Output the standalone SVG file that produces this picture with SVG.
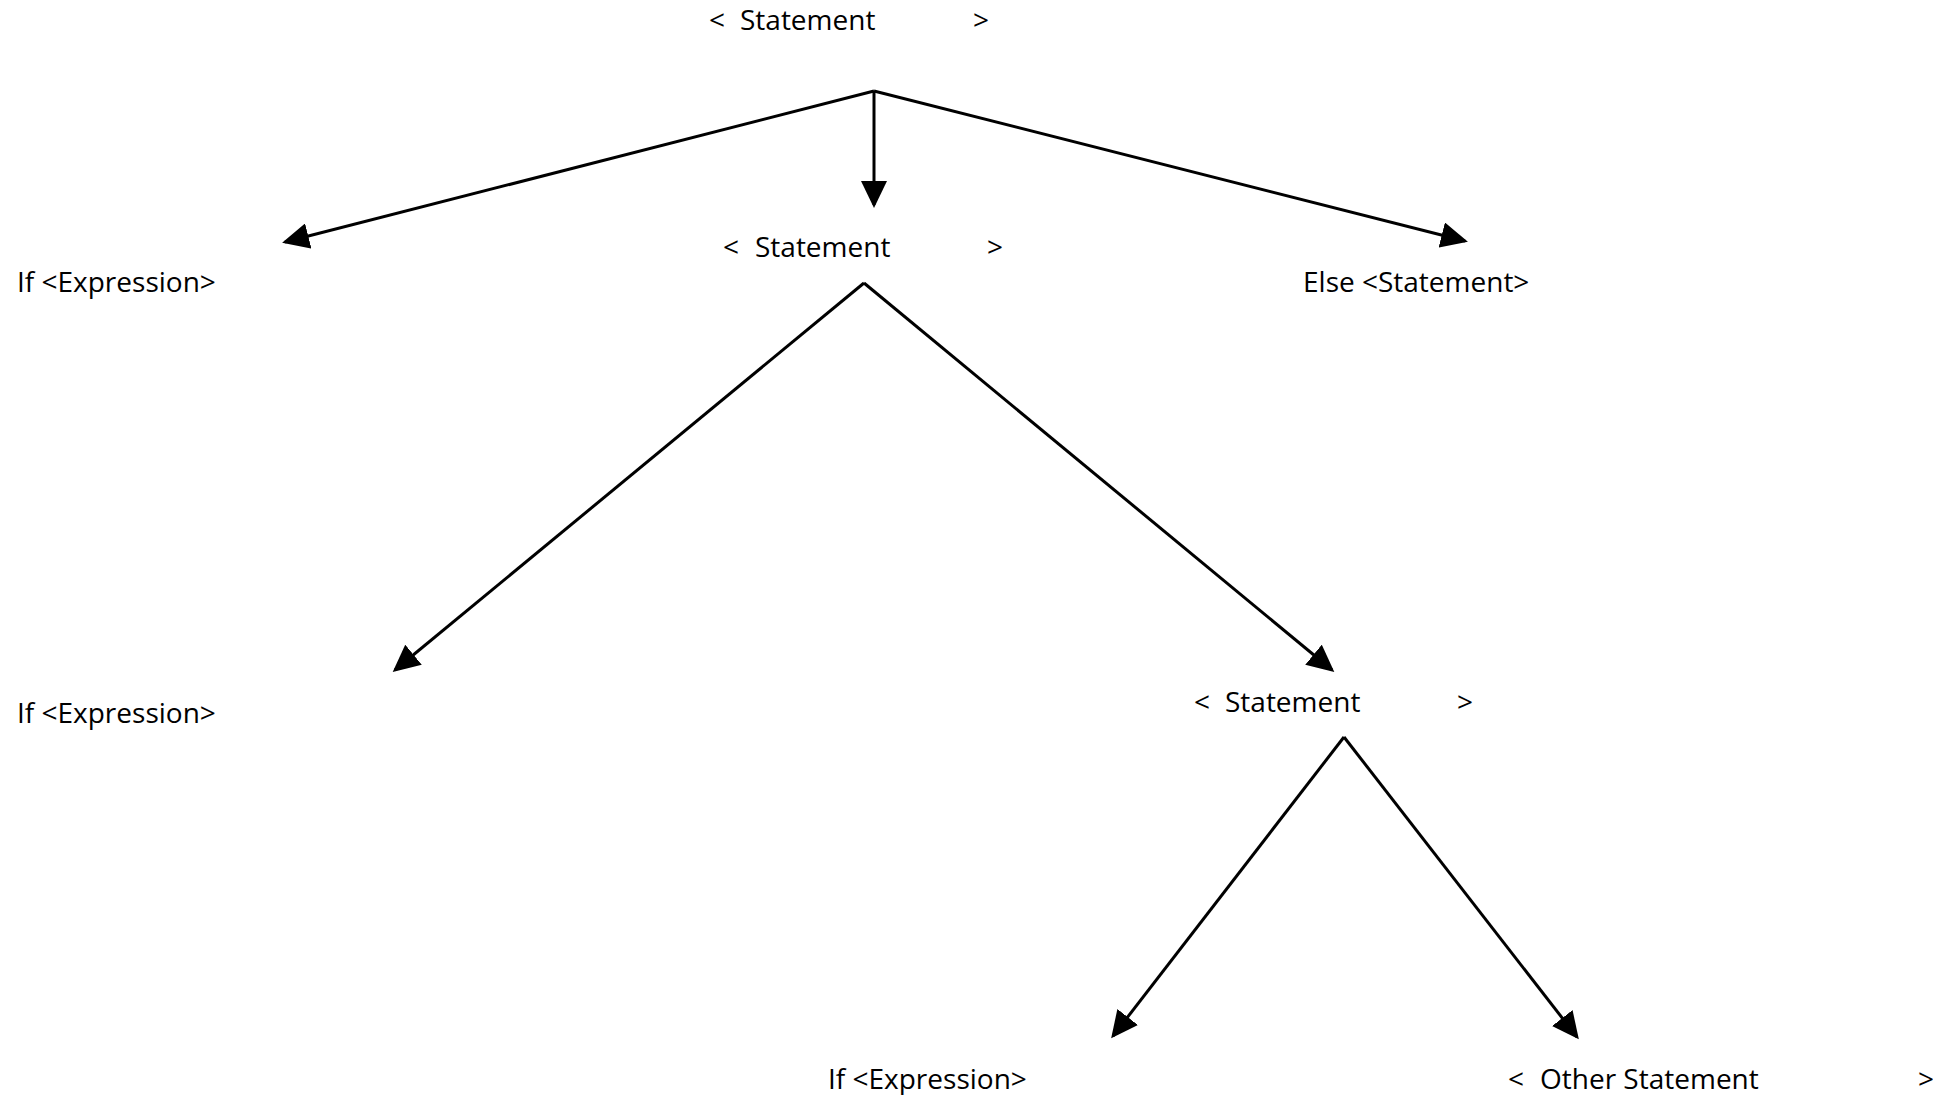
<svg xmlns="http://www.w3.org/2000/svg" width="1933" height="1095" viewBox="0 0 1933 1095">
  <style>
    text { font-family: "Open Sans", "Noto Sans", "DejaVu Sans", sans-serif; font-size: 28px; fill: #000; }
    .edge { stroke: #000; stroke-width: 3; fill: none; marker-end: url(#arrow); }
  </style>
  <defs>
    <marker id="arrow" markerUnits="userSpaceOnUse" markerWidth="27" markerHeight="26" refX="24" refY="13" orient="auto">
      <path d="M0,0 L27,13 L0,26 z" fill="#000"/>
    </marker>
  </defs>
  <rect width="1933" height="1095" fill="#fff"/>

  <!-- parse tree connectors -->
  <g id="connectors">
    <path class="edge" d="M874,91 L285,242"/>
    <path class="edge" d="M874,91 L874,205"/>
    <path class="edge" d="M874,91 L1465,241"/>
    <path class="edge" d="M864,283 L395,670"/>
    <path class="edge" d="M864,283 L1332,670"/>
    <path class="edge" d="M1344,737 L1113,1036"/>
    <path class="edge" d="M1344,737 L1577,1037"/>
  </g>

  <g id="root-statement">
    <text x="709" y="30">&lt;</text>
    <text x="740" y="30">Statement</text>
    <text x="973" y="30">&gt;</text>
  </g>

  <g id="if-expression-1">
    <text x="17" y="292">If &lt;Expression&gt;</text>
  </g>

  <g id="statement-2">
    <text x="723" y="257">&lt;</text>
    <text x="755" y="257">Statement</text>
    <text x="987" y="257">&gt;</text>
  </g>

  <g id="else-statement">
    <text x="1303" y="292">Else &lt;Statement&gt;</text>
  </g>

  <g id="if-expression-2">
    <text x="17" y="723">If &lt;Expression&gt;</text>
  </g>

  <g id="statement-3">
    <text x="1194" y="712">&lt;</text>
    <text x="1225" y="712">Statement</text>
    <text x="1457" y="712">&gt;</text>
  </g>

  <g id="if-expression-3">
    <text x="828" y="1089">If &lt;Expression&gt;</text>
  </g>

  <g id="other-statement">
    <text x="1508" y="1089">&lt;</text>
    <text x="1540" y="1089">Other Statement</text>
    <text x="1918" y="1089">&gt;</text>
  </g>
</svg>
